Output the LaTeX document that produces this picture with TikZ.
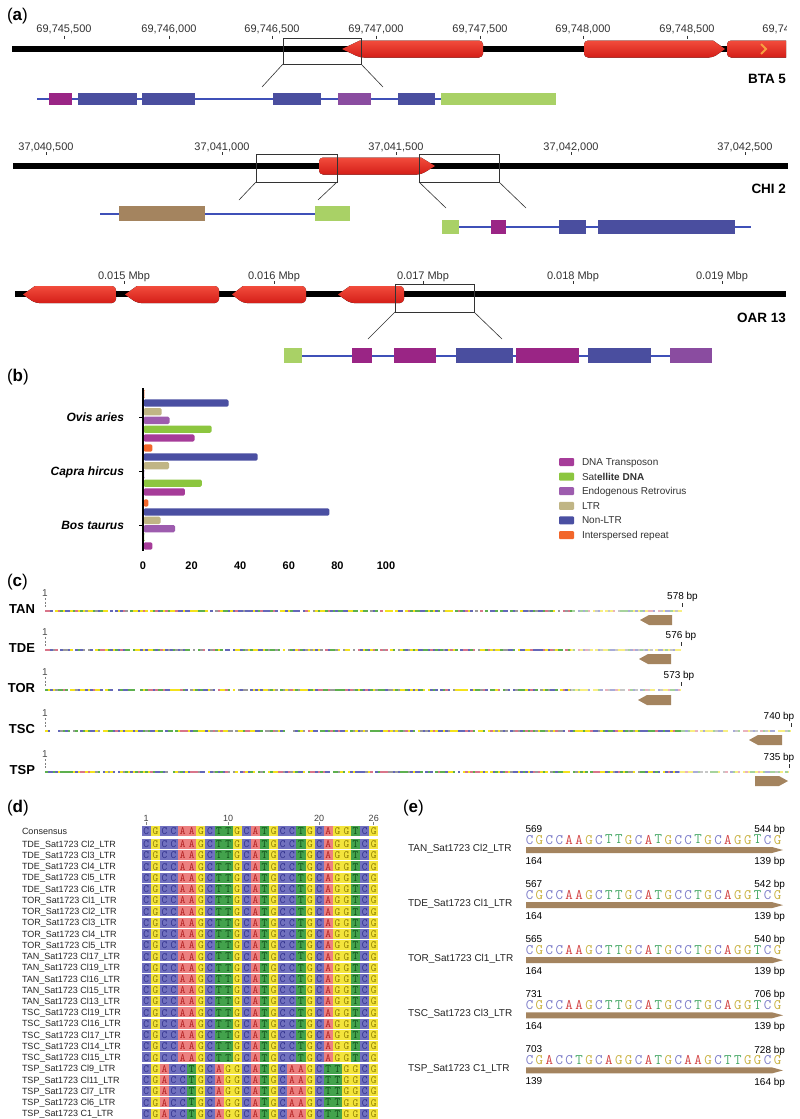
\documentclass[tikz,border=0pt]{standalone}
\usepackage{fontspec}
\setmainfont{Liberation Sans}
\definecolor{geneTop}{HTML}{F24C3C}
\definecolor{geneBot}{HTML}{D41E18}
\definecolor{tickgray}{HTML}{333333}
\definecolor{zgray}{HTML}{333333}
\definecolor{repMag}{HTML}{9A2585}
\definecolor{repBlue}{HTML}{4A4E9F}
\definecolor{repPur}{HTML}{8A4CA0}
\definecolor{repGreen}{HTML}{A9D166}
\definecolor{repBrown}{HTML}{A4845F}
\definecolor{repLine}{HTML}{3F50B8}
\definecolor{bMag}{HTML}{A63C99}
\definecolor{bGreen}{HTML}{8CC63F}
\definecolor{bPur}{HTML}{9D5CAE}
\definecolor{bTan}{HTML}{C0B585}
\definecolor{bBlue}{HTML}{4A4FA2}
\definecolor{bOra}{HTML}{F2662A}
\definecolor{seqY}{HTML}{F4E21C}
\definecolor{seqG}{HTML}{5DB04E}
\definecolor{seqB}{HTML}{6468B8}
\definecolor{seqR}{HTML}{D9758A}
\definecolor{seqK}{HTML}{9A9A9A}
\definecolor{arrBrown}{HTML}{A4845F}
\definecolor{cC}{HTML}{7171BF}
\definecolor{cG}{HTML}{F3E43C}
\definecolor{cA}{HTML}{EC8080}
\definecolor{cT}{HTML}{43A24C}
\definecolor{lC}{HTML}{2E2E8A}
\definecolor{lG}{HTML}{8A7A00}
\definecolor{lA}{HTML}{B01E1E}
\definecolor{lT}{HTML}{0E4D16}
\definecolor{eC}{HTML}{7A7AC8}
\definecolor{eG}{HTML}{C9B140}
\definecolor{eA}{HTML}{D34545}
\definecolor{eT}{HTML}{45A865}
\definecolor{chevron}{HTML}{F7A040}

\newcommand{\geneL}[5]{\fill[gene] (#1,{(#4+#5)/2}) -- (#2,#4) [rounded corners=4pt] -- (#3,#4) -- (#3,#5) -- (#2,#5) [sharp corners] -- cycle;}
\newcommand{\geneR}[5]{\fill[gene] (#3,{(#4+#5)/2}) -- (#2,#4) [rounded corners=4pt] -- (#1,#4) -- (#1,#5) -- (#2,#5) [sharp corners] -- cycle;}
\newcommand{\rbox}[5]{\fill[#5] (#1,#3) rectangle (#2,#4);}
\newcommand{\hbarr}[3]{\fill[#3, rounded corners=1.5pt] (143.5,{#1-3.7}) rectangle ({143.5+#2*2.43},{#1+3.7});}
\newcommand{\seqline}[3]{%
  \pgfmathsetseed{#3}%
  \fill[seqY] (45,{#1-1.4}) rectangle (#2,{#1+1.4});
  \pgfmathtruncatemacro{\nseg}{(#2-45)/2.5-1}%
  \foreach \k in {0,...,\nseg}{%
    \pgfmathrandominteger{\sqn}{0}{8}%
    \ifcase\sqn\relax \def\sqc{seqY}\or\def\sqc{seqG}\or\def\sqc{seqB}\or\def\sqc{seqR}\or\def\sqc{seqK}\or\def\sqc{white}\or\def\sqc{seqG}\or\def\sqc{seqY}\or\def\sqc{seqB}\fi
    \fill[\sqc] ({45+\k*2.5},{#1-1.4}) rectangle ++(2.5,2.8);
  }%
  \fill[white,opacity=0.45] ({#2-110},{#1-1.6}) rectangle (#2,{#1+1.6});
}
\newcommand{\dletfont}{\fontsize{11}{11}\selectfont\ttfamily}
\newcommand{\eletfont}{\fontsize{14.5}{14.5}\selectfont\ttfamily}
\def\seqA{C,G,C,C,A,A,G,C,T,T,G,C,A,T,G,C,C,T,G,C,A,G,G,T,C,G}
\def\seqB{C,G,A,C,C,T,G,C,A,G,G,C,A,T,G,C,A,A,G,C,T,T,G,G,C,G}

\begin{document}
\begin{tikzpicture}[x=1pt,y=-1pt,
  every node/.style={inner sep=0pt,outer sep=0pt,text depth=0pt},
  panel/.style={font=\fontsize{17}{17}\selectfont, anchor=west},
  tickl/.style={font=\fontsize{11}{11}\selectfont, text=tickgray},
  tickm/.style={draw=tickgray,line width=0.8pt},
  chrlab/.style={font=\bfseries\fontsize{13.5}{13.5}\selectfont, anchor=east},
  chrom/.style={line width=6pt},
  gene/.style={top color=geneTop,bottom color=geneBot},
  zoomln/.style={draw=zgray,line width=0.6pt},
  repln/.style={draw=repLine,line width=2pt},
  splab/.style={font=\bfseries\itshape\fontsize{12}{12}\selectfont, anchor=east},
  axnum/.style={font=\bfseries\fontsize{11}{11}\selectfont},
  leglab/.style={font=\fontsize{10}{10}\selectfont, anchor=west, text=tickgray},
  clab/.style={font=\bfseries\fontsize{13}{13}\selectfont, anchor=east},
  bplab/.style={font=\fontsize{10}{10}\selectfont},
  dlab/.style={font=\fontsize{9}{9}\selectfont, anchor=west, text=black!85},
  elab/.style={font=\fontsize{10}{10}\selectfont, anchor=west, text=black!85},
  cellC/.style={fill=cC}, cellG/.style={fill=cG}, cellA/.style={fill=cA}, cellT/.style={fill=cT},
  letC/.style={text=lC,font=\dletfont}, letG/.style={text=lG,font=\dletfont},
  letA/.style={text=lA,font=\dletfont}, letT/.style={text=lT,font=\dletfont},
  eletC/.style={text=eC,font=\eletfont}, eletG/.style={text=eG,font=\eletfont},
  eletA/.style={text=eA,font=\eletfont}, eletT/.style={text=eT,font=\eletfont}
]
\useasboundingbox (0,0) rectangle (800,1119);
\fill[white] (0,0) rectangle (800,1119);

% ================= (a) =================
\node[panel] (pa) at (7,14) {(\textbf{a})};

% ---- BTA 5
\foreach \x/\t [count=\i] in {64/{69,745,500},169/{69,746,000},272/{69,746,500},376/{69,747,000},480/{69,747,500},583/{69,748,000},687/{69,748,500}}{
  \node[tickl] (bt\i) at (\x,29) {\t};
  \draw[tickm] (\x,35.5) -- (\x,39);
}
\draw[chrom] (12,49) -- (786,49);
\geneL{342}{360}{483}{40.5}{57.5}
\geneR{584}{713}{725}{40.5}{57.5}
\begin{scope}
  \clip (0,0) rectangle (786,70);
  \node[tickl] (bt8) at (790,29) {69,749,000};
  \fill[gene, rounded corners=4pt] (727,40.5) rectangle (800,57.5);
\end{scope}
\draw[chevron,line width=2pt] (761,44) -- (766,49) -- (761,54);
\node[chrlab] (bta) at (786,79) {BTA 5};
\draw[zoomln] (283,38) rectangle (361,64);
\coordinate (bz1) at (283,64); \coordinate (bz2) at (361,64);
\coordinate (bz3) at (262,87); \coordinate (bz4) at (383,87);
\draw[zoomln] (bz1) -- (bz3); \draw[zoomln] (bz2) -- (bz4);
\draw[repln] (37,99) -- (556,99);
\rbox{49}{72}{93}{105}{repMag}
\rbox{78}{137}{93}{105}{repBlue}
\rbox{142}{195}{93}{105}{repBlue}
\rbox{273}{321}{93}{105}{repBlue}
\rbox{338}{371}{93}{105}{repPur}
\rbox{398}{435}{93}{105}{repBlue}
\rbox{441}{556}{93}{105}{repGreen}

% ---- CHI 2
\foreach \x/\t [count=\i] in {46/{37,040,500},222/{37,041,000},396/{37,041,500},571/{37,042,000},745/{37,042,500}}{
  \node[tickl] (ct\i) at (\x,147) {\t};
  \draw[tickm] (\x,152) -- (\x,155);
}
\draw[chrom] (13,166) -- (788,166);
\geneR{319}{421}{435}{157.5}{174.5}
\node[chrlab] (chi) at (786,189) {CHI 2};
\draw[zoomln] (256,154) rectangle (337,182);
\draw[zoomln] (419,154) rectangle (499,182);
\coordinate (cz1) at (256,182); \coordinate (cz2) at (337,182);
\coordinate (cz3) at (239,200); \coordinate (cz4) at (318,200);
\coordinate (cz5) at (419,182); \coordinate (cz6) at (499,182);
\coordinate (cz7) at (446,208); \coordinate (cz8) at (526,208);
\draw[zoomln] (cz1) -- (cz3); \draw[zoomln] (cz2) -- (cz4);
\draw[zoomln] (cz5) -- (cz7); \draw[zoomln] (cz6) -- (cz8);
\draw[repln] (100,213.5) -- (339,213.5);
\rbox{119}{205}{206}{221}{repBrown}
\rbox{315}{350}{206}{221}{repGreen}
\draw[repln] (442,227) -- (751,227);
\rbox{442}{459}{220}{234}{repGreen}
\rbox{491}{506}{220}{234}{repMag}
\rbox{559}{586}{220}{234}{repBlue}
\rbox{598}{735}{220}{234}{repBlue}

% ---- OAR 13
\foreach \x/\t [count=\i] in {124/{0.015 Mbp},274/{0.016 Mbp},423/{0.017 Mbp},573/{0.018 Mbp},722/{0.019 Mbp}}{
  \node[tickl] (ot\i) at (\x,276) {\t};
  \draw[tickm] (\x,281) -- (\x,284);
}
\draw[chrom] (15,294) -- (786,294);
\geneL{23}{35}{116}{286}{303}
\geneL{125}{137}{219}{286}{303}
\geneL{232}{243}{306}{286}{303}
\geneL{338}{350}{404}{286}{303}
\node[chrlab] (oar) at (786,318) {OAR 13};
\draw[zoomln] (395,284) rectangle (474,312);
\coordinate (oz1) at (395,312); \coordinate (oz2) at (474,312);
\coordinate (oz3) at (368,339); \coordinate (oz4) at (502,339);
\draw[zoomln] (oz1) -- (oz3); \draw[zoomln] (oz2) -- (oz4);
\draw[repln] (284,355.5) -- (712,355.5);
\rbox{284}{302}{348}{363}{repGreen}
\rbox{352}{372}{348}{363}{repMag}
\rbox{394}{436}{348}{363}{repMag}
\rbox{456}{513}{348}{363}{repBlue}
\rbox{516}{579}{348}{363}{repMag}
\rbox{588}{651}{348}{363}{repBlue}
\rbox{670}{712}{348}{363}{repPur}

% ================= (b) =================
\node[panel] (pb) at (7,375) {(\textbf{b})};
% Ovis aries
\hbarr{394}{0.4}{bOra}
\hbarr{403}{35}{bBlue}
\hbarr{411.7}{7.5}{bTan}
\hbarr{420.4}{10.7}{bPur}
\hbarr{429.2}{28}{bGreen}
\hbarr{438}{21}{bMag}
% Capra hircus
\hbarr{448}{3.7}{bOra}
\hbarr{457}{47}{bBlue}
\hbarr{465.7}{10.5}{bTan}
\hbarr{474.4}{0.3}{bPur}
\hbarr{483.2}{24}{bGreen}
\hbarr{492}{17}{bMag}
% Bos taurus
\hbarr{503}{2}{bOra}
\hbarr{512}{76.5}{bBlue}
\hbarr{520.4}{7}{bTan}
\hbarr{528.7}{13}{bPur}
\hbarr{537.2}{0.3}{bGreen}
\hbarr{546}{3.7}{bMag}
\draw[line width=1.5pt] (143,388) -- (143,551);
\foreach \yy/\t [count=\i] in {417/Ovis aries,471/Capra hircus,525/Bos taurus}{
  \node[splab] (sp\i) at (124,\yy) {\t};
  \draw[line width=1pt] (139,\yy) -- (143,\yy);
}
\foreach \v [count=\i] in {0,20,40,60,80,100}{
  \node[axnum] (ax\i) at ({143+\v*2.43},566) {\v};
}
\foreach \c/\t [count=\i] in {bMag/{DNA Transposon},bGreen/{Sat\textbf{ellite DNA}},bPur/{Endogenous Retrovirus},bTan/{LTR},bBlue/{Non-LTR},bOra/{Interspersed repeat}}{
  \fill[\c, rounded corners=1pt] (559,{462+(\i-1)*14.6-4}) rectangle (574,{462+(\i-1)*14.6+4});
  \node[leglab] (lg\i) at (582,{462+(\i-1)*14.6}) {\t};
}

% ================= (c) =================
\node[panel] (pc) at (7,580) {(\textbf{c})};
\foreach \yy/\xe/\t/\bp/\sd/\bx [count=\i] in {611/682/TAN/578 bp/11/682.5,650/681/TDE/576 bp/23/681,690/681/TOR/573 bp/37/679,731/791/TSC/740 bp/51/779,772/789/TSP/735 bp/67/779}{
  \node[clab] (cl\i) at (35,\yy-2) {\t};
  \node[bplab,text=black!70] (cn\i) at (45,\yy-18) {1};
  \draw[gray,line width=0.8pt,dash pattern=on 2pt off 1.5pt] (45,\yy-13) -- (45,\yy-4);
  \seqline{\yy}{\xe}{\sd}
  \node[bplab] (cb\i) at (\bx,\yy-15.5) {\bp};
  \draw[tickm] (\xe,\yy-8) -- (\xe,\yy-4);
}
\fill[arrBrown] (640,620) -- (649,615) -- (672,615) -- (672,625) -- (649,625) -- cycle;
\fill[arrBrown] (639,659) -- (648,654) -- (671,654) -- (671,664) -- (648,664) -- cycle;
\fill[arrBrown] (638,700) -- (647,695) -- (671,695) -- (671,705) -- (647,705) -- cycle;
\fill[arrBrown] (749,740) -- (758,735) -- (782,735) -- (782,745) -- (758,745) -- cycle;
\fill[arrBrown] (788,781) -- (779,776) -- (755,776) -- (755,786) -- (779,786) -- cycle;

% ================= (d) =================
\node[panel] (pd) at (7,806) {(\textbf{d})};
\foreach \n/\k in {1/1,10/10,20/20,26/26}{
  \node[font=\fontsize{9}{9}\selectfont, text=black!75] (rn\n) at ({141.7+(\k-0.5)*9.1},818) {\n};
  \draw[gray,line width=0.6pt] ({141.7+(\k-0.5)*9.1},822) -- ({141.7+(\k-0.5)*9.1},825);
}
\node[dlab] (cons) at (22,831) {Consensus};
\foreach \c [count=\k] in \seqA {
  \fill[cell\c] ({141.7+(\k-1)*9.1},826) rectangle ++(9.1,9.5);
  \node[let\c] (cs\k) at ({141.7+(\k-0.5)*9.1},830.8) {\c};
}
\foreach \lab [count=\r] in {TDE\_Sat1723 Cl2\_LTR,TDE\_Sat1723 Cl3\_LTR,TDE\_Sat1723 Cl4\_LTR,TDE\_Sat1723 Cl5\_LTR,TDE\_Sat1723 Cl6\_LTR,TOR\_Sat1723 Cl1\_LTR,TOR\_Sat1723 Cl2\_LTR,TOR\_Sat1723 Cl3\_LTR,TOR\_Sat1723 Cl4\_LTR,TOR\_Sat1723 Cl5\_LTR,TAN\_Sat1723 Cl17\_LTR,TAN\_Sat1723 Cl19\_LTR,TAN\_Sat1723 Cl16\_LTR,TAN\_Sat1723 Cl15\_LTR,TAN\_Sat1723 Cl13\_LTR,TSC\_Sat1723 Cl19\_LTR,TSC\_Sat1723 Cl16\_LTR,TSC\_Sat1723 Cl17\_LTR,TSC\_Sat1723 Cl14\_LTR,TSC\_Sat1723 Cl15\_LTR,TSP\_Sat1723 Cl9\_LTR,TSP\_Sat1723 Cl11\_LTR,TSP\_Sat1723 Cl7\_LTR,TSP\_Sat1723 Cl6\_LTR,TSP\_Sat1723 C1\_LTR}{
  \pgfmathsetmacro{\yy}{844+(\r-1)*11.23}
  \node[dlab] (dl\r) at (22,\yy) {\lab};
  \ifnum\r>20 \let\sq\seqB\else\let\sq\seqA\fi
  \foreach \c [count=\k] in \sq {
    \fill[cell\c] ({141.7+(\k-1)*9.1},{\yy-5}) rectangle ++(9.1,10);
    \node[let\c] (d\r-\k) at ({141.7+(\k-0.5)*9.1},{\yy+0.3}) {\c};
  }
}

% ================= (e) =================
\node[panel] (pe) at (403,806) {(\textbf{e})};
\foreach \lab/\nTL/\nTR/\nBL/\nBR [count=\i from 0] in {TAN\_Sat1723 Cl2\_LTR/569/544 bp/164/139 bp,TDE\_Sat1723 Cl1\_LTR/567/542 bp/164/139 bp,TOR\_Sat1723 Cl1\_LTR/565/540 bp/164/139 bp,TSC\_Sat1723 Cl3\_LTR/731/706 bp/164/139 bp,TSP\_Sat1723 C1\_LTR/703/728 bp/139/164 bp}{
  \pgfmathsetmacro{\yo}{829+\i*55.1}
  \node[elab] (el\i) at (408,{\yo+19}) {\lab};
  \node[bplab,anchor=west] (etl\i) at (525.5,\yo) {\nTL};
  \node[bplab,anchor=east] (etr\i) at (785,\yo) {\nTR};
  \node[bplab,anchor=west] (ebl\i) at (525.5,{\yo+32}) {\nBL};
  \node[bplab,anchor=east] (ebr\i) at (785,{\yo+32}) {\nBR};
  \ifnum\i=4 \let\sq\seqB\else\let\sq\seqA\fi
  \foreach \c [count=\k] in \sq {
    \node[elet\c] (e\i-\k) at ({529.5+(\k-1)*9.92},{\yo+10.5}) {\c};
  }
  \fill[arrBrown] (526,{\yo+18}) -- (772,{\yo+18}) -- (783,{\yo+21}) -- (772,{\yo+24}) -- (526,{\yo+24}) -- cycle;
}
\end{tikzpicture}
\end{document}
